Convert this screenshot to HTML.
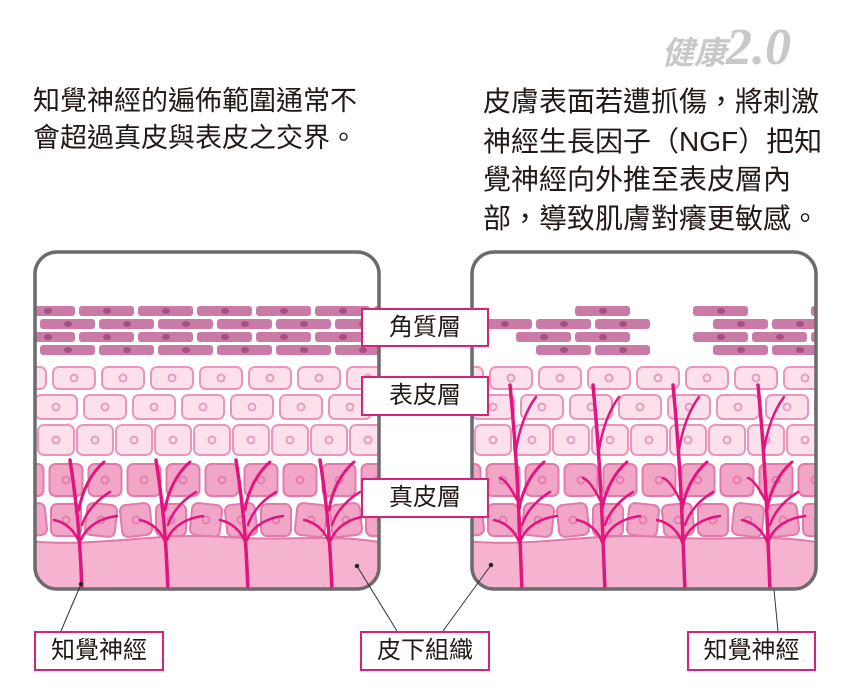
<!DOCTYPE html>
<html><head><meta charset="utf-8">
<style>
html,body{margin:0;padding:0;background:#fff;width:850px;height:692px;overflow:hidden}
.t{position:absolute;white-space:nowrap;font-family:"Liberation Sans","Noto Sans CJK TC",sans-serif;color:#231815;font-size:27px;line-height:27px}
svg{position:absolute;left:0;top:0}
.lab{position:absolute;box-sizing:border-box;border:2px solid #d4237a;background:#fff;font-family:"Liberation Sans","Noto Sans CJK TC",sans-serif;font-size:24px;color:#231815;text-align:center;white-space:nowrap}
</style></head><body>
<div class="t" style="left:33px;top:88px">知覺神經的遍佈範圍通常不</div>
<div class="t" style="left:33px;top:125px">會超過真皮與表皮之交界。</div>
<div class="t" style="left:483px;top:88px;font-size:28px">皮膚表面若遭抓傷，將刺激</div>
<div class="t" style="left:483px;top:128px;font-size:28px">神經生長因子（NGF）把知</div>
<div class="t" style="left:483px;top:166px;font-size:28px">覺神經向外推至表皮層內</div>
<div class="t" style="left:483px;top:205px;font-size:28px">部，導致肌膚對癢更敏感。</div>
<div class="t" style="left:662px;top:28px;font-size:32px;line-height:40px;color:#c8c8c8;font-style:italic;font-weight:bold">健康<span style="font-size:52px;font-family:'Liberation Serif',serif">2.0</span></div>
<svg width="850" height="692" id="s" xmlns="http://www.w3.org/2000/svg">
<defs>
<clipPath id="c1"><rect x="35" y="252" width="344" height="337" rx="22"/></clipPath>
<clipPath id="c2"><rect x="472" y="252" width="344" height="337" rx="22"/></clipPath>
</defs>
<g id="p1" clip-path="url(#c1)"></g>
<g id="p2" clip-path="url(#c2)"></g>
<rect x="35" y="252" width="344" height="337" rx="22" fill="none" stroke="#6b6b6b" stroke-width="3.5"/>
<rect x="472" y="252" width="344" height="337" rx="22" fill="none" stroke="#6b6b6b" stroke-width="3.5"/>
<g stroke="#333" stroke-width="1" fill="#222">
<line x1="81" y1="584" x2="61" y2="631"/><circle cx="81" cy="584" r="1.8"/>
<line x1="357" y1="566" x2="397" y2="631"/><circle cx="357" cy="566" r="1.8"/>
<line x1="491" y1="565" x2="443" y2="631"/><circle cx="491" cy="565" r="1.8"/>
<line x1="774" y1="590" x2="778" y2="631"/>
</g>
</svg>
<div class="lab" style="left:361px;top:308px;width:128px;height:39px;line-height:35px">角質層</div>
<div class="lab" style="left:361px;top:376px;width:128px;height:40px;line-height:36px">表皮層</div>
<div class="lab" style="left:361px;top:478px;width:128px;height:40px;line-height:36px">真皮層</div>
<div class="lab" style="left:34px;top:631px;width:130px;height:40px;line-height:36px">知覺神經</div>
<div class="lab" style="left:360px;top:631px;width:130px;height:40px;line-height:36px">皮下組織</div>
<div class="lab" style="left:687px;top:631px;width:129px;height:40px;line-height:36px">知覺神經</div>
<script>
var NS="http://www.w3.org/2000/svg";
function el(g,n,a){var e=document.createElementNS(NS,n);for(var k in a)e.setAttribute(k,a[k]);g.appendChild(e);return e;}
function panel(id,ox,right){
 var g=document.getElementById(id);
 el(g,"rect",{x:ox,y:252,width:350,height:340,fill:"#fff"});
 var rows=[311,324,337,350];
 var missing=right?{"0":[0,1,3,5],"1":[3],"2":[0,3],"3":[0,3]}:{};
 for(var r=0;r<4;r++){
  var off=(r%2==0)?-15:5;
  for(var i=0;i<7;i++){
   if(missing[r]&&missing[r].indexOf(i)>=0)continue;
   var x=ox+off+i*59;
   el(g,"rect",{x:x,y:rows[r]-5,width:55,height:10,rx:3,fill:"#c97aa5"});
   el(g,"ellipse",{cx:x+28,cy:rows[r],rx:4,ry:3,fill:"#a94d86"});
  }
 }
 var er=[[378,42,22,49,-10],[407,42,24,49,-28],[440,36,30,39,-18]];
 er.forEach(function(e){
  for(var i=0;i<12;i++){var cx=ox+e[4]+i*e[3];
   el(g,"rect",{x:cx-e[1]/2,y:e[0]-e[2]/2,width:e[1],height:e[2],rx:6,fill:"#fce1ec",stroke:"#eb94bd","stroke-width":2});
   el(g,"circle",{cx:cx,cy:e[0],r:3.5,fill:"none",stroke:"#eb94bd","stroke-width":1.8});}
 });
 var dr=[[480,33,32,39,-8],[520,30,32,35,-4]];
 dr.forEach(function(e,k){
  for(var i=0;i<12;i++){var cx=ox+e[4]+i*e[3];
   el(g,"rect",{x:cx-e[1]/2,y:e[0]-e[2]/2,width:e[1],height:e[2],rx:6,fill:"#f2a6c7",stroke:"#e37aab","stroke-width":2,transform:k?"rotate("+((i%3)-1)*6+" "+cx+" "+e[0]+")":""});
   el(g,"circle",{cx:cx,cy:e[0],r:3.5,fill:"none",stroke:"#e37aab","stroke-width":1.8});}
 });
 el(g,"path",{d:"M"+(ox-5)+" 541 C"+(ox+60)+" 548 "+(ox+120)+" 532 "+(ox+190)+" 537 S"+(ox+300)+" 532 "+(ox+360)+" 545 L"+(ox+360)+" 600 L"+(ox-5)+" 600 Z",fill:"#f5b3cf",stroke:"#e07aa9","stroke-width":2});
 var xs=right?[50,133,213,298]:[47,133,213,297];
 var top=right?385:460;
 xs.forEach(function(b){var x=ox+b;
  var h=590-top;
  var st={fill:"none",stroke:"#e0157f","stroke-width":3.5,"stroke-linecap":"round"};
  el(g,"path",Object.assign({},st,{d:"M"+x+" 592 C"+(x-2)+" 540 "+(x-4)+" "+(top+h*0.4)+" "+(x-12)+" "+top}));
  el(g,"path",Object.assign({},st,{"stroke-width":2.5,d:"M"+(x-2)+" 545 C"+(x-6)+" 530 "+(x-18)+" 522 "+(x-28)+" 520"}));
  el(g,"path",Object.assign({},st,{"stroke-width":2.5,d:"M"+(x-1)+" 540 C"+(x+5)+" 525 "+(x+20)+" 518 "+(x+35)+" 516"}));
  el(g,"path",Object.assign({},st,{"stroke-width":3,d:"M"+(x-3)+" 510 C"+(x)+" 490 "+(x+10)+" 472 "+(x+22)+" 462"}));
  el(g,"path",Object.assign({},st,{"stroke-width":2.5,d:"M"+(x)+" 525 C"+(x+5)+" 510 "+(x+15)+" 500 "+(x+28)+" 492"}));
  if(right){
   el(g,"path",Object.assign({},st,{"stroke-width":2.5,d:"M"+(x-6)+" 450 C"+(x-3)+" 430 "+(x+4)+" 410 "+(x+14)+" 397"}));
   el(g,"path",Object.assign({},st,{"stroke-width":2.5,d:"M"+(x-5)+" 500 C"+(x-10)+" 490 "+(x-16)+" 480 "+(x-22)+" 478"}));
  }
 });
}
panel("p1",35,false);
panel("p2",472,true);
</script>
</body></html>
